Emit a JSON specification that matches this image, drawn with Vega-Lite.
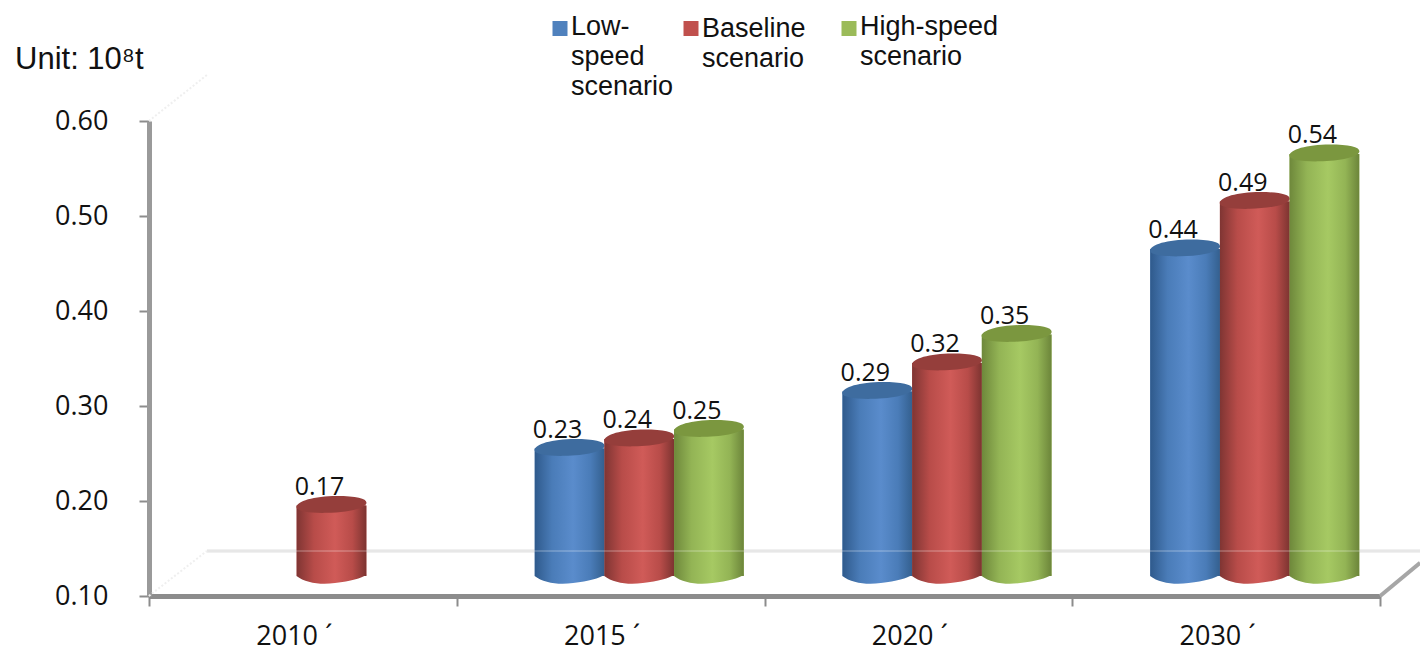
{
  "$schema": "https://vega.github.io/schema/vega-lite/v6.json",
  "width": 1231,
  "height": 475,
  "autosize": {"type": "none"},
  "padding": {"left": 149, "top": 121, "right": 40, "bottom": 55},
  "background": "white",
  "config": {"view": {"stroke": null}},
  "title": {
    "text": "Unit: 10⁸t",
    "orient": "top",
    "anchor": "start",
    "frame": "group",
    "dx": -134,
    "offset": -61,
    "font": "Liberation Sans",
    "fontSize": 31,
    "fontWeight": "normal",
    "color": "#111111"
  },
  "datasets": {
    "demand": [
      {"year": "2010", "scenario": "Baseline scenario", "value": 0.17},
      {"year": "2015", "scenario": "Low-speed scenario", "value": 0.23},
      {"year": "2015", "scenario": "Baseline scenario", "value": 0.24},
      {"year": "2015", "scenario": "High-speed scenario", "value": 0.25},
      {"year": "2020", "scenario": "Low-speed scenario", "value": 0.29},
      {"year": "2020", "scenario": "Baseline scenario", "value": 0.32},
      {"year": "2020", "scenario": "High-speed scenario", "value": 0.35},
      {"year": "2030", "scenario": "Low-speed scenario", "value": 0.44},
      {"year": "2030", "scenario": "Baseline scenario", "value": 0.49},
      {"year": "2030", "scenario": "High-speed scenario", "value": 0.54}
    ],
    "floor": [
      {"year": "2010", "yearEnd": "2030", "level": 0.1474}
    ],
    "cornerLeft": [
      {"year": "2010", "low": 0.1, "high": 0.1474},
      {"year": "2010", "low": 0.6, "high": 0.6484}
    ],
    "cornerRight": [
      {"year": "2030", "low": 0.1, "high": 0.135}
    ]
  },
  "encoding": {
    "x": {
      "field": "year",
      "type": "nominal",
      "scale": {"domain": ["2010", "2015", "2020", "2030"], "paddingInner": 0, "paddingOuter": 0},
      "axis": {
        "title": null,
        "labelAngle": 0,
        "labelExpr": "datum.label ? datum.label + '  ´' : ''",
        "labelFont": "Open Sans",
        "labelFontSize": 27,
        "labelColor": "#111111",
        "labelPadding": 17,
        "labelOffset": -9,
        "tickBand": "extent",
        "tickSize": 10,
        "tickWidth": 2,
        "tickColor": "#8c8c8c",
        "domainColor": "#8c8c8c",
        "domainWidth": 5,
        "grid": false
      }
    },
    "y": {
      "type": "quantitative",
      "scale": {"domain": [0.1, 0.6], "nice": false, "zero": false},
      "axis": {
        "title": null,
        "values": [0.1, 0.2, 0.3, 0.4, 0.5, 0.6],
        "format": ".2f",
        "labelFont": "Open Sans",
        "labelFontSize": 27,
        "labelColor": "#111111",
        "labelPadding": 31,
        "tickSize": 10,
        "tickWidth": 2,
        "tickColor": "#8c8c8c",
        "domainColor": "#9a9a9a",
        "domainWidth": 5,
        "grid": false
      }
    }
  },
  "layer": [
    {
      "data": {"name": "floor"},
      "mark": {"type": "rule", "color": "#e2e2e2", "strokeWidth": 3, "xOffset": -96, "x2Offset": 194},
      "encoding": {
        "x": {"field": "year"},
        "x2": {"field": "yearEnd"},
        "y": {"field": "level"}
      }
    },
    {
      "data": {"name": "cornerLeft"},
      "mark": {"type": "rule", "color": "#efefef", "strokeWidth": 2, "strokeDash": [2, 2], "xOffset": -154, "x2Offset": -96},
      "encoding": {
        "x": {"field": "year"},
        "x2": {"field": "year"},
        "y": {"field": "low"},
        "y2": {"field": "high"}
      }
    },
    {
      "data": {"name": "cornerRight"},
      "mark": {"type": "rule", "color": "#a6a6a6", "strokeWidth": 4, "xOffset": 154, "x2Offset": 194},
      "encoding": {
        "x": {"field": "year"},
        "x2": {"field": "year"},
        "y": {"field": "low"},
        "y2": {"field": "high"}
      }
    },
    {
      "data": {"name": "demand"},
      "encoding": {
        "xOffset": {
          "field": "scenario",
          "type": "nominal",
          "scale": {
            "domain": ["Low-speed scenario", "Baseline scenario", "High-speed scenario"],
            "range": [78, 287],
            "paddingInner": 0,
            "paddingOuter": 0
          }
        }
      },
      "layer": [
        {
          "mark": {"type": "bar", "yOffset": -24, "y2Offset": -20},
          "encoding": {
            "y": {"field": "value", "stack": null},
            "y2": {"datum": 0.1},
            "color": {
              "field": "scenario",
              "type": "nominal",
              "scale": {
                "domain": ["Low-speed scenario", "Baseline scenario", "High-speed scenario"],
                "range": ["#4f81bd", "#c0504d", "#9bbb59"]
              },
              "legend": {
                "orient": "none",
                "legendX": 403,
                "legendY": -106,
                "direction": "horizontal",
                "columns": 3,
                "title": null,
                "symbolType": "square",
                "symbolSize": 225,
                "symbolStrokeWidth": 0,
                "labelFont": "Liberation Sans",
                "labelFontSize": 27,
                "labelColor": "#111111",
                "labelBaseline": "top",
                "labelLimit": 300,
                "labelOffset": -8,
                "columnPadding": 9,
                "gridAlign": "none",
                "encode": {
                  "symbols": {"update": {"x": {"signal": "datum.index === 2 ? 34 : 8"}}},
                  "labels": {
                    "update": {
                      "dx": {"signal": "datum.index === 2 ? 26 : 0"},
                      "dy": {"signal": "datum.index === 1 ? -13 : -15"},
                      "lineHeight": {"value": 30}
                    }
                  }
                },
                "labelExpr": "datum.label === 'Low-speed scenario' ? ['Low-', 'speed', 'scenario'] : datum.label === 'Baseline scenario' ? ['Baseline', 'scenario'] : ['High-speed', 'scenario']"
              }
            }
          }
        },
        {
          "transform": [{"filter": "datum.scenario === 'Low-speed scenario'"}],
          "layer": [
            {
              "mark": {"type": "point", "filled": true, "opacity": 1, "size": 4900, "yOffset": -20, "shape": "M-1,0 C-0.75,0.2 -0.3,0.26 0.1,0.2 C0.55,0.15 0.85,0.08 1,-0.04 Z", "fill": {"x1": 0, "y1": 0, "x2": 1, "y2": 0, "gradient": "linear", "stops": [{"offset": 0, "color": "#2f5a8c"}, {"offset": 0.25, "color": "#4a7cb8"}, {"offset": 0.55, "color": "#5a8ccc"}, {"offset": 0.8, "color": "#4a7cb8"}, {"offset": 1, "color": "#34608f"}]}},
              "encoding": {"y": {"datum": 0.1}}
            },
            {
              "mark": {"type": "bar", "yOffset": -24, "y2Offset": -20, "fill": {"x1": 0, "y1": 0, "x2": 1, "y2": 0, "gradient": "linear", "stops": [{"offset": 0, "color": "#2f5a8c"}, {"offset": 0.25, "color": "#4a7cb8"}, {"offset": 0.55, "color": "#5a8ccc"}, {"offset": 0.8, "color": "#4a7cb8"}, {"offset": 1, "color": "#34608f"}]}},
              "encoding": {"y": {"field": "value", "stack": null}, "y2": {"datum": 0.1}}
            },
            {
              "mark": {"type": "point", "filled": true, "opacity": 1, "size": 4900, "yOffset": -24, "shape": "M-1,0.05 C-1,-0.12 -0.5,-0.27 0.15,-0.27 C0.7,-0.27 1,-0.2 1,-0.08 C1,0.08 0.45,0.2 -0.15,0.21 C-0.65,0.22 -1,0.16 -1,0.05 Z", "fill": "#3e6c9f"},
              "encoding": {"y": {"field": "value"}}
            }
          ]
        },
        {
          "transform": [{"filter": "datum.scenario === 'Baseline scenario'"}],
          "layer": [
            {
              "mark": {"type": "point", "filled": true, "opacity": 1, "size": 4900, "yOffset": -20, "shape": "M-1,0 C-0.75,0.2 -0.3,0.26 0.1,0.2 C0.55,0.15 0.85,0.08 1,-0.04 Z", "fill": {"x1": 0, "y1": 0, "x2": 1, "y2": 0, "gradient": "linear", "stops": [{"offset": 0, "color": "#7f3533"}, {"offset": 0.25, "color": "#b84c49"}, {"offset": 0.55, "color": "#d05b58"}, {"offset": 0.8, "color": "#b84c49"}, {"offset": 1, "color": "#7d3431"}]}},
              "encoding": {"y": {"datum": 0.1}}
            },
            {
              "mark": {"type": "bar", "yOffset": -24, "y2Offset": -20, "fill": {"x1": 0, "y1": 0, "x2": 1, "y2": 0, "gradient": "linear", "stops": [{"offset": 0, "color": "#7f3533"}, {"offset": 0.25, "color": "#b84c49"}, {"offset": 0.55, "color": "#d05b58"}, {"offset": 0.8, "color": "#b84c49"}, {"offset": 1, "color": "#7d3431"}]}},
              "encoding": {"y": {"field": "value", "stack": null}, "y2": {"datum": 0.1}}
            },
            {
              "mark": {"type": "point", "filled": true, "opacity": 1, "size": 4900, "yOffset": -24, "shape": "M-1,0.05 C-1,-0.12 -0.5,-0.27 0.15,-0.27 C0.7,-0.27 1,-0.2 1,-0.08 C1,0.08 0.45,0.2 -0.15,0.21 C-0.65,0.22 -1,0.16 -1,0.05 Z", "fill": "#953e3b"},
              "encoding": {"y": {"field": "value"}}
            }
          ]
        },
        {
          "transform": [{"filter": "datum.scenario === 'High-speed scenario'"}],
          "layer": [
            {
              "mark": {"type": "point", "filled": true, "opacity": 1, "size": 4900, "yOffset": -20, "shape": "M-1,0 C-0.75,0.2 -0.3,0.26 0.1,0.2 C0.55,0.15 0.85,0.08 1,-0.04 Z", "fill": {"x1": 0, "y1": 0, "x2": 1, "y2": 0, "gradient": "linear", "stops": [{"offset": 0, "color": "#6e883b"}, {"offset": 0.25, "color": "#93b455"}, {"offset": 0.55, "color": "#a6c963"}, {"offset": 0.8, "color": "#93b455"}, {"offset": 1, "color": "#6c853a"}]}},
              "encoding": {"y": {"datum": 0.1}}
            },
            {
              "mark": {"type": "bar", "yOffset": -24, "y2Offset": -20, "fill": {"x1": 0, "y1": 0, "x2": 1, "y2": 0, "gradient": "linear", "stops": [{"offset": 0, "color": "#6e883b"}, {"offset": 0.25, "color": "#93b455"}, {"offset": 0.55, "color": "#a6c963"}, {"offset": 0.8, "color": "#93b455"}, {"offset": 1, "color": "#6c853a"}]}},
              "encoding": {"y": {"field": "value", "stack": null}, "y2": {"datum": 0.1}}
            },
            {
              "mark": {"type": "point", "filled": true, "opacity": 1, "size": 4900, "yOffset": -24, "shape": "M-1,0.05 C-1,-0.12 -0.5,-0.27 0.15,-0.27 C0.7,-0.27 1,-0.2 1,-0.08 C1,0.08 0.45,0.2 -0.15,0.21 C-0.65,0.22 -1,0.16 -1,0.05 Z", "fill": "#7b973f"},
              "encoding": {"y": {"field": "value"}}
            }
          ]
        },
        {
          "mark": {"type": "text", "font": "Open Sans", "fontSize": 25, "color": "#111111", "baseline": "alphabetic", "dx": -12, "dy": -35},
          "encoding": {
            "y": {"field": "value"},
            "text": {"field": "value", "type": "quantitative", "format": ".2f"}
          }
        }
      ]
    },
    {
      "data": {"name": "floor"},
      "mark": {"type": "rule", "color": "#ffffff", "opacity": 0.2, "strokeWidth": 2, "xOffset": -96, "x2Offset": 194},
      "encoding": {
        "x": {"field": "year"},
        "x2": {"field": "yearEnd"},
        "y": {"field": "level"}
      }
    }
  ]
}
